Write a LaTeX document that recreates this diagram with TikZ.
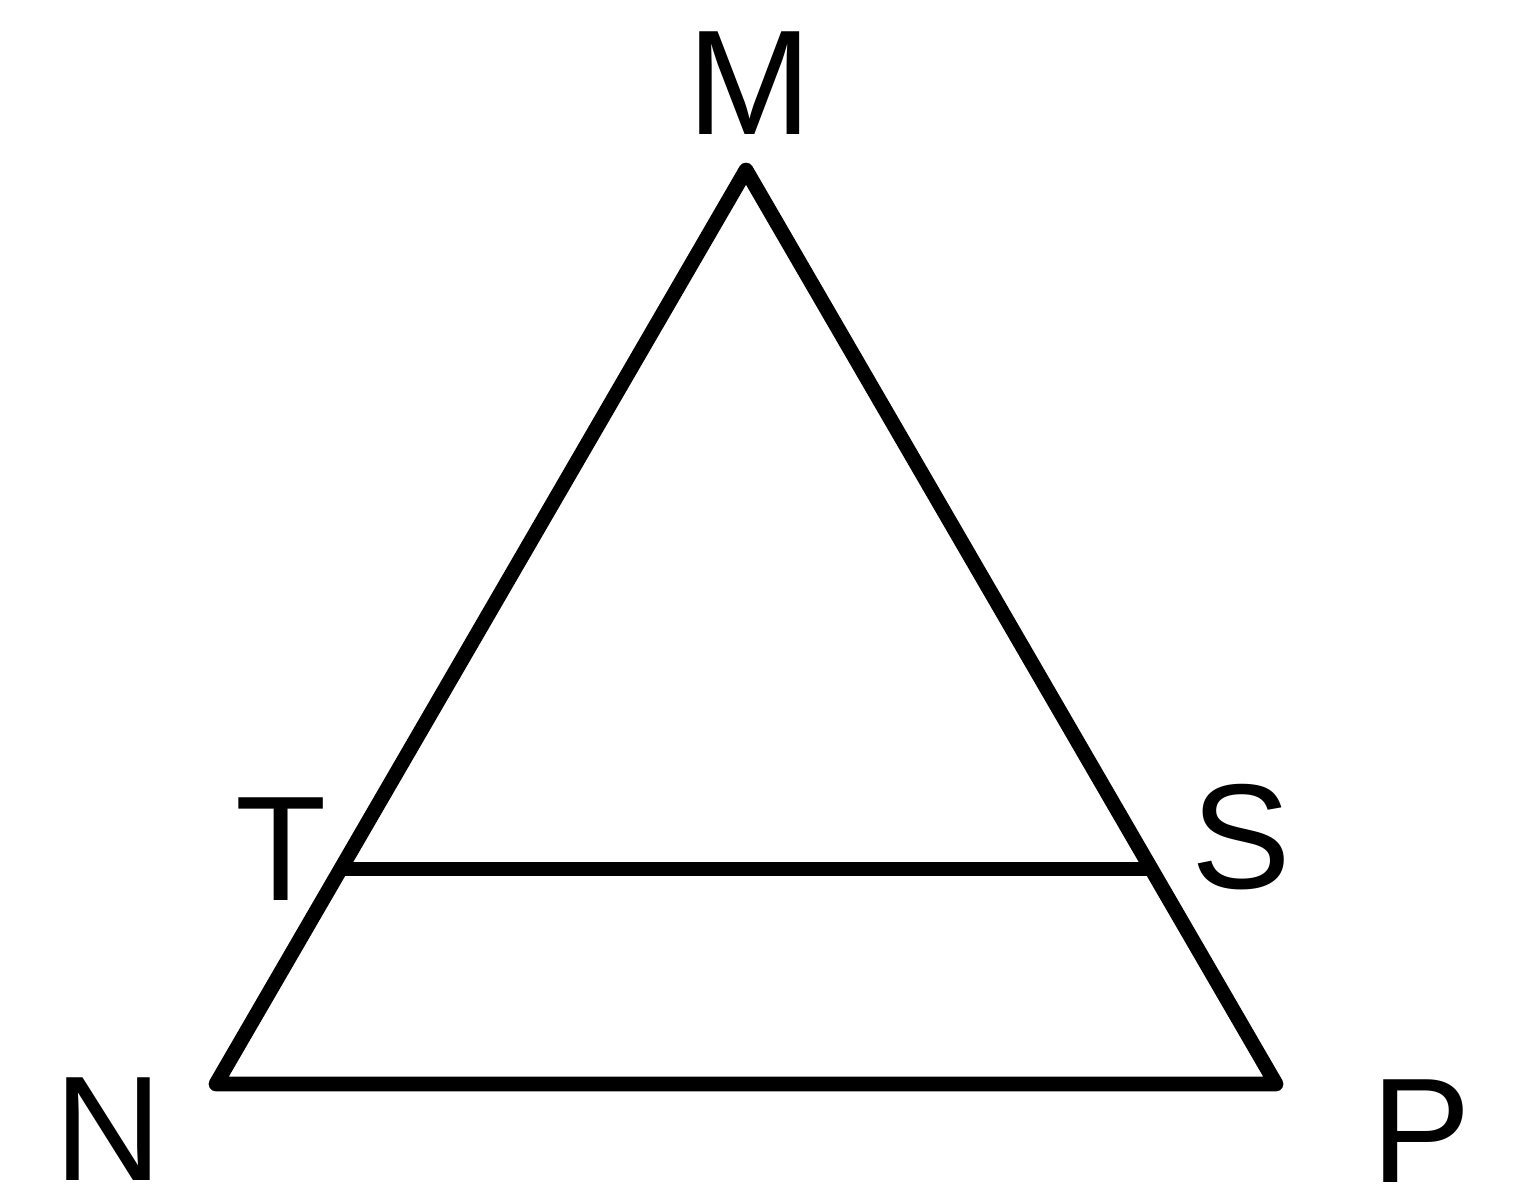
\documentclass[tikz,border=0pt]{standalone}
\usepackage{fontspec}
\setmainfont{Liberation Sans}
\begin{document}
\begin{tikzpicture}[x=0.02cm,y=-0.02cm,
  edge/.style={line width=8.4pt,line join=round,line cap=round},
  lbl/.style={inner sep=0pt,font=\fontsize{85}{85}\selectfont}]
\useasboundingbox (0,0) rectangle (1535,1200);
\coordinate (M) at (746,170);
\coordinate (N) at (216,1084);
\coordinate (P) at (1276,1084);
\coordinate (T) at (345,869);
\coordinate (S) at (1147,869);
\draw[edge] (M) -- (N) -- (P) -- cycle;
\draw[edge,line cap=butt] (T) -- (S);
\node[lbl] (lM) at (750,83) {M};
\node[lbl] (lT) at (281,849) {T};
\node[lbl] (lS) at (1241,837) {S};
\node[lbl] (lN) at (108,1129) {N};
\node[lbl] (lP) at (1421,1131) {P};
\end{tikzpicture}
\end{document}
